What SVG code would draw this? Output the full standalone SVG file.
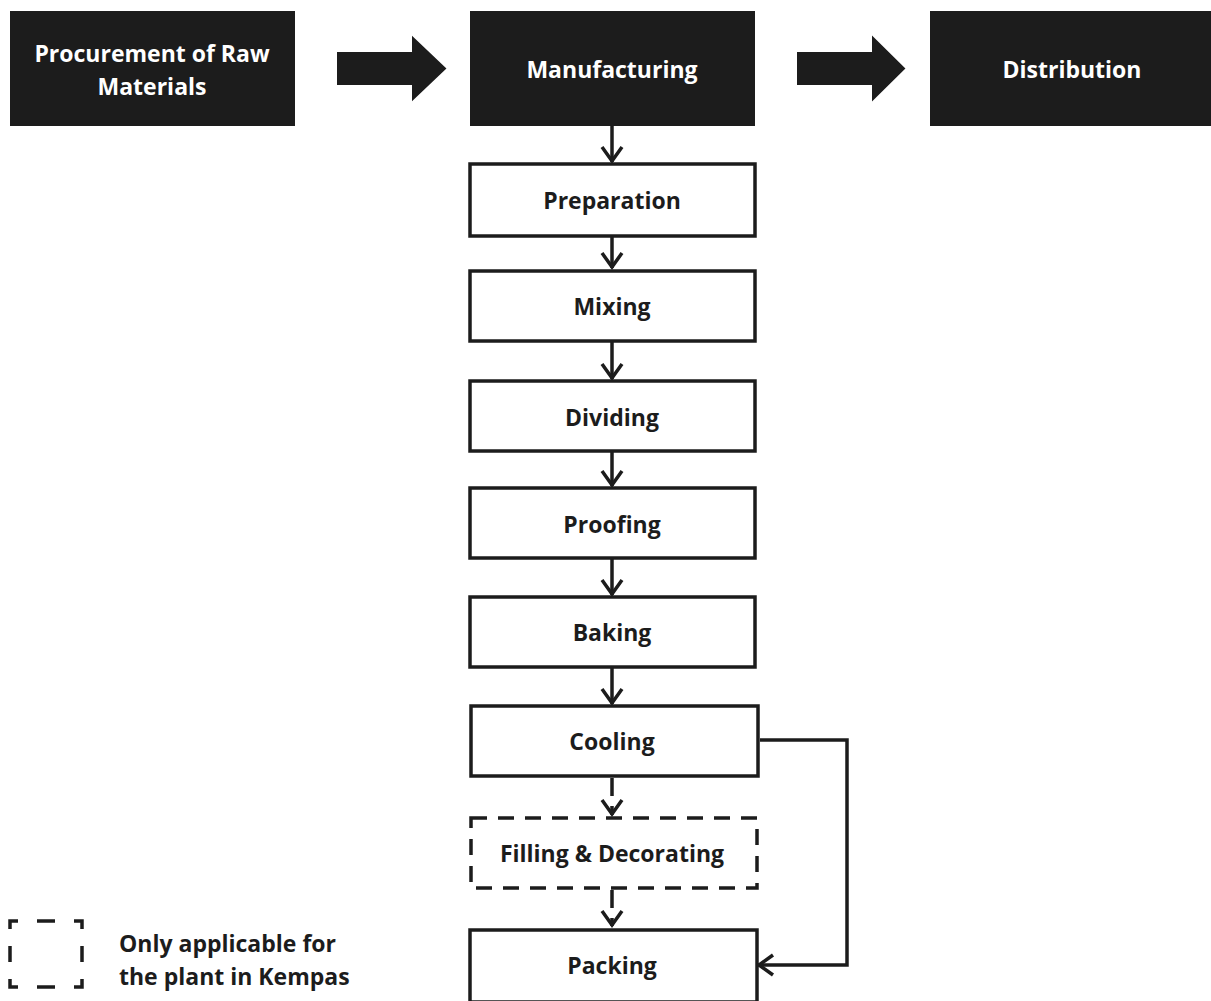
<svg xmlns="http://www.w3.org/2000/svg" width="1211" height="1001" viewBox="0 0 1211 1001">
<style>
.dark{fill:#1c1c1c;stroke:#1c1c1c;stroke-width:2}
.box{fill:#fff;stroke:#1c1c1c;stroke-width:3.5}
.dash{fill:#fff;stroke:#1c1c1c;stroke-width:3.5;stroke-dasharray:16 11}
.wt{fill:#fff;font-family:"Open Sans","Liberation Sans",sans-serif;font-weight:bold;font-size:23px;text-anchor:middle}
.bt{fill:#1c1c1c;font-family:"Open Sans","Liberation Sans",sans-serif;font-weight:bold;font-size:23px;text-anchor:middle}
.lt{fill:#1c1c1c;font-family:"Open Sans","Liberation Sans",sans-serif;font-weight:bold;font-size:23px}
.con{fill:none;stroke:#1c1c1c;stroke-width:3.5}
.dcon{fill:none;stroke:#1c1c1c;stroke-width:3.5;stroke-dasharray:18 10}
</style>
<defs>
<marker id="chev" markerUnits="userSpaceOnUse" markerWidth="26" markerHeight="26" viewBox="0 0 26 26" refX="23" refY="13" orient="auto">
<path d="M8,3 L22,13 L8,23" fill="none" stroke="#1c1c1c" stroke-width="3.5"/>
</marker>
</defs>
<rect width="1211" height="1001" fill="#fff"/>
<g id="connectors">
<polygon class="dark" points="338,53 413,53 413,38 445,68.5 413,99 413,84 338,84"/>
<polygon class="dark" points="798,53 873,53 873,38 904,68.5 873,99 873,84 798,84"/>
<line class="con" x1="612" y1="126" x2="612" y2="162" marker-end="url(#chev)"/>
<line class="con" x1="612" y1="237" x2="612" y2="268" marker-end="url(#chev)"/>
<line class="con" x1="612" y1="342" x2="612" y2="379" marker-end="url(#chev)"/>
<line class="con" x1="612" y1="452" x2="612" y2="486" marker-end="url(#chev)"/>
<line class="con" x1="612" y1="559" x2="612" y2="595" marker-end="url(#chev)"/>
<line class="con" x1="612" y1="668" x2="612" y2="704" marker-end="url(#chev)"/>
<line class="dcon" x1="612" y1="778" x2="612" y2="815" marker-end="url(#chev)"/>
<line class="dcon" x1="612" y1="890" x2="612" y2="926" marker-end="url(#chev)"/>
<polyline class="con" points="760,740 847,740 847,965 758,965" marker-end="url(#chev)"/>
</g>
<g id="procurement">
<rect class="dark" x="11" y="12" width="283" height="113"/>
<text class="wt" x="152" y="62">Procurement of Raw</text>
<text class="wt" x="152" y="95">Materials</text>
</g>
<g id="manufacturing">
<rect class="dark" x="471" y="12" width="283" height="113"/>
<text class="wt" x="612" y="78">Manufacturing</text>
</g>
<g id="distribution">
<rect class="dark" x="931" y="12" width="282" height="113"/>
<text class="wt" x="1072" y="78">Distribution</text>
</g>
<g id="preparation">
<rect class="box" x="470" y="164" width="285" height="72"/>
<text class="bt" x="612" y="209">Preparation</text>
</g>
<g id="mixing">
<rect class="box" x="470" y="271" width="285" height="70"/>
<text class="bt" x="612" y="315">Mixing</text>
</g>
<g id="dividing">
<rect class="box" x="470" y="381" width="285" height="70"/>
<text class="bt" x="612" y="426">Dividing</text>
</g>
<g id="proofing">
<rect class="box" x="470" y="488" width="285" height="70"/>
<text class="bt" x="612" y="533">Proofing</text>
</g>
<g id="baking">
<rect class="box" x="470" y="597" width="285" height="70"/>
<text class="bt" x="612" y="641">Baking</text>
</g>
<g id="cooling">
<rect class="box" x="471" y="706" width="287" height="70"/>
<text class="bt" x="612" y="750">Cooling</text>
</g>
<g id="filling">
<rect class="dash" x="471" y="818" width="286" height="70"/>
<text class="bt" x="612" y="862">Filling &amp; Decorating</text>
</g>
<g id="packing">
<rect class="box" x="470" y="930" width="287" height="72"/>
<text class="bt" x="612" y="974">Packing</text>
</g>
<g id="legend">
<path d="M10,921 H82 V987 H10 Z" fill="none" stroke="#1c1c1c" stroke-width="3.5" stroke-dasharray="8 19 18 19 16 17 16 17 16 19 18 19 16 17 16 17 8"/>
<text class="lt" x="119" y="952">Only applicable for</text>
<text class="lt" x="119" y="985">the plant in Kempas</text>
</g>
</svg>
